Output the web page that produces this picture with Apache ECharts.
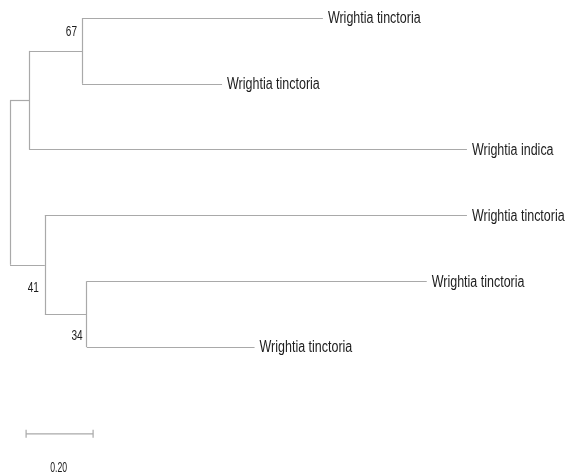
<!DOCTYPE html>
<html lang="en">
<head>
    <meta charset="UTF-8">
    <title>Wrightia tree</title>
    <style>
        html, body { margin: 0; padding: 0; background: #fff; }
        #tree { width: 567px; height: 474px; }
    </style>
</head>
<body>
<div id="tree"></div>
<script type="text/javascript" src="https://cdn.jsdelivr.net/npm/echarts@6/dist/echarts.min.js"></script>
<script type="text/javascript">
    // tips 0..5 from top to bottom, then internal nodes (children always before parent)
    var nodeNames = ['Wrightia tinctoria', 'Wrightia tinctoria', 'Wrightia indica',
        'Wrightia tinctoria', 'Wrightia tinctoria', 'Wrightia tinctoria',
        '', '', '', '', ''];
    var nodeParent = [6, 6, 7, 9, 8, 8, 7, 10, 9, 10, -1];
    var branchLength = [0.719, 0.418, 1.307, 1.260, 1.015, 0.501, 0.158, 0.057, 0.125, 0.104, 0];
    var bootstrap = [null, null, null, null, null, null, 67, null, 34, 41, null];
    var tipCount = 6;
    var scaleBarLength = 0.20;
    var scaleBarLabel = '0.20';

    var font = "'Liberation Sans', Arial, sans-serif";
    var lineColor = '#a9a9a9';
    var textColor = '#1c1c1c';

    // depth from root
    var n = nodeParent.length;
    var depth = [];
    for (var i = n - 1; i >= 0; i--) {
        depth[i] = nodeParent[i] < 0 ? 0 : depth[nodeParent[i]] + branchLength[i];
    }
    // vertical position: tips by order, internals at mean of children
    var ypos = [];
    var kids = [];
    for (var i = 0; i < n; i++) kids.push([]);
    for (var i = 0; i < n; i++) if (nodeParent[i] >= 0) kids[nodeParent[i]].push(i);
    for (var i = 0; i < n; i++) {
        if (i < tipCount) {
            ypos[i] = i;
        } else {
            var s = 0;
            kids[i].forEach(function (k) { s += ypos[k]; });
            ypos[i] = s / kids[i].length;
        }
    }

    var segments = [];
    for (var i = 0; i < n; i++) {
        if (nodeParent[i] >= 0) {
            segments.push({coords: [[depth[nodeParent[i]], ypos[i]], [depth[i], ypos[i]]]});
        }
        if (kids[i].length) {
            var ys = kids[i].map(function (k) { return ypos[k]; });
            segments.push({coords: [[depth[i], Math.min.apply(null, ys)], [depth[i], Math.max.apply(null, ys)]]});
        }
    }

    var tips = [];
    for (var i = 0; i < tipCount; i++) tips.push([depth[i], ypos[i], i]);

    // label offsets in px (dx from node to right edge of text, dy)
    var bootOffsets = {6: [-5, -19], 8: [-4, 22.5], 9: [-6, 23]};
    var boots = [];
    for (var i = 0; i < n; i++) {
        if (bootstrap[i] != null) boots.push([depth[i], ypos[i], i]);
    }

    function narrowText(x, y, text, size, sx, align) {
        return {
            type: 'text',
            x: x, y: y,
            scaleX: sx,
            style: {
                text: text, fill: textColor, font: size + 'px ' + font,
                align: align, verticalAlign: 'middle'
            }
        };
    }

    var chart = echarts.init(document.getElementById('tree'), null, {renderer: 'canvas'});
    var option = {
        animation: false,
        backgroundColor: '#ffffff',
        grid: {left: 0, right: 0, top: 0, bottom: 0, containLabel: false},
        xAxis: {type: 'value', min: -0.0299, max: 1.6627, show: false},
        yAxis: {type: 'value', inverse: true, min: -0.2736, max: 6.930, show: false},
        series: [
            {
                type: 'lines',
                coordinateSystem: 'cartesian2d',
                polyline: false,
                lineStyle: {color: lineColor, width: 1.2, opacity: 1},
                data: segments,
                silent: true
            },
            {
                type: 'custom',
                data: tips,
                renderItem: function (params, api) {
                    var p = api.coord([api.value(0), api.value(1)]);
                    return narrowText(p[0] + 5, p[1] + 1, nodeNames[api.value(2)], 16, 0.78, 'left');
                },
                silent: true
            },
            {
                type: 'custom',
                data: boots,
                renderItem: function (params, api) {
                    var p = api.coord([api.value(0), api.value(1)]);
                    var k = api.value(2);
                    var off = bootOffsets[k] || [-5, 0];
                    return narrowText(p[0] + off[0], p[1] + off[1], String(bootstrap[k]), 14, 0.72, 'right');
                },
                silent: true
            },
            {
                type: 'custom',
                data: [[0.048, 6.32]],
                renderItem: function (params, api) {
                    var p0 = api.coord([api.value(0), api.value(1)]);
                    var p1 = api.coord([api.value(0) + scaleBarLength, api.value(1)]);
                    var st = {stroke: lineColor, lineWidth: 1.2};
                    return {
                        type: 'group',
                        children: [
                            {type: 'line', shape: {x1: p0[0], y1: p0[1], x2: p1[0], y2: p1[1]}, style: st},
                            {type: 'line', shape: {x1: p0[0], y1: p0[1] - 4, x2: p0[0], y2: p0[1] + 4}, style: st},
                            {type: 'line', shape: {x1: p1[0], y1: p1[1] - 4, x2: p1[0], y2: p1[1] + 4}, style: st},
                            narrowText((p0[0] + p1[0]) / 2 - 1, p0[1] + 34, scaleBarLabel, 14, 0.62, 'center')
                        ]
                    };
                },
                silent: true
            }
        ]
    };
    chart.setOption(option);
</script>
</body>
</html>
